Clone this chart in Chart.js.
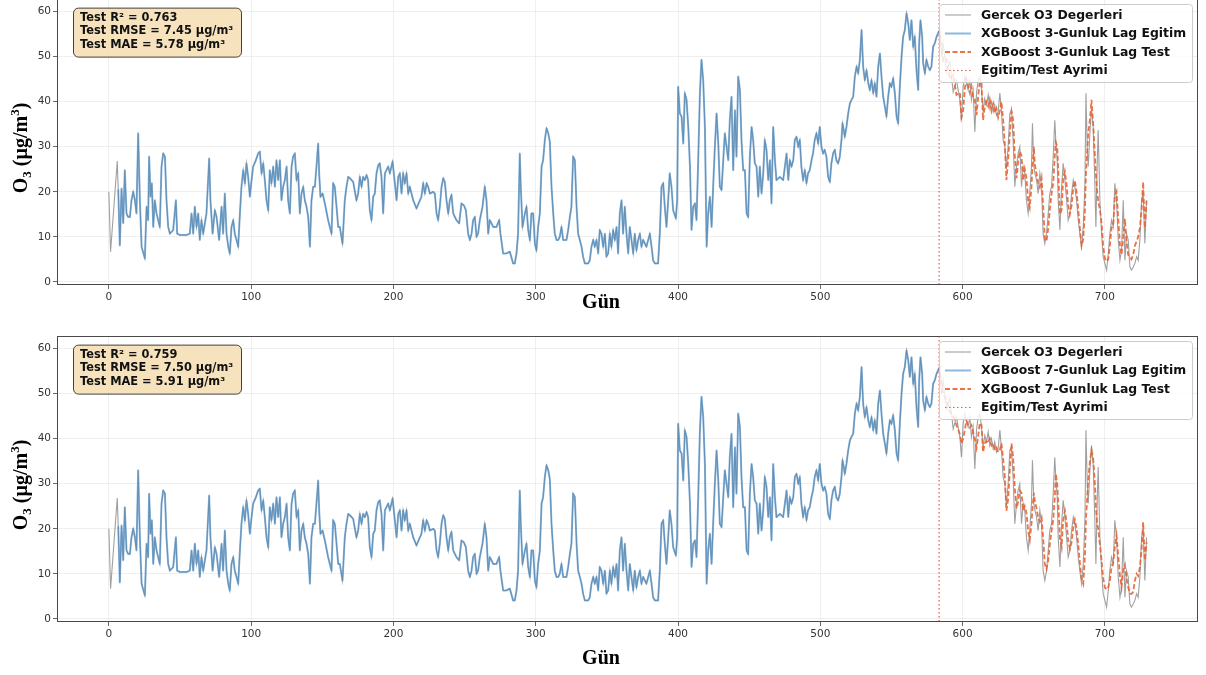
<!DOCTYPE html>
<html><head><meta charset="utf-8">
<script src="https://cdn.jsdelivr.net/npm/chart.js@4.4.0/dist/chart.umd.min.js"></script>
<style>
html,body{margin:0;padding:0;background:#fff;width:1206px;height:675px;overflow:hidden;position:relative}
canvas{position:absolute;left:0}
#c1{top:-5px}
#c2{top:330px}
</style></head><body>
<canvas id="c1" width="1206" height="325"></canvas>
<canvas id="c2" width="1206" height="345"></canvas>
<script>
// ---------- DATA ----------
const xTicks = [0, 100, 200, 300, 400, 500, 600, 700];
const yTicks = [0, 10, 20, 30, 40, 50, 60];
const splitDay = 583.5;
const xLabel = 'Gün';

// actual values at the very start (before the lagged model has output)
const startDays = [0, 1.2, 5.9];
const startO3 = [20.0, 6.7, 26.8];

// training period (actual and training prediction overlap)
const trainDays = [6.6,7.7,8.9,10.1,11.2,12.4,13.6,14.8,15.9,17.1,18.3,19.4,20.6,21.8,23.0,25.3,26.5,27.6,28.3,29.3,30.2,31.2,32.3,33.5,35.8,37.0,38.2,39.4,40.5,41.7,42.9,45.2,47.1,48.0,49.9,54.6,56.9,58.1,59.3,60.4,61.6,62.8,63.9,65.1,66.3,68.6,70.5,71.4,72.9,74.5,75.7,77.5,79.2,80.3,81.5,82.7,83.9,85.0,86.2,87.4,88.5,89.7,90.9,92.1,93.2,94.4,95.6,96.7,97.9,99.1,100.3,101.4,103.3,104.9,106.1,107.3,108.5,109.6,110.8,112.0,113.1,114.3,115.5,116.7,117.8,119.0,120.2,121.3,122.5,123.7,124.9,126.0,127.2,128.4,129.5,130.7,131.9,133.1,134.2,135.4,136.6,137.7,138.9,140.1,141.3,142.4,143.6,144.8,145.9,147.1,
147.8,148.7,150.2,151.8,154.1,156.5,157.6,158.8,160.0,161.2,162.3,164.2,165.8,167.0,168.2,169.4,171.7,174.0,175.2,176.4,177.6,178.7,179.9,181.1,182.2,183.4,184.6,185.8,186.9,188.1,189.3,190.4,191.6,192.8,194.0,195.1,196.3,197.5,199.4,201.0,202.2,203.4,204.5,205.7,206.8,208.0,209.2,210.4,211.5,213.9,216.2,218.6,219.7,220.9,222.1,223.3,224.4,225.6,227.9,229.1,230.3,231.4,232.6,233.8,235.0,236.1,237.3,238.5,239.6,240.8,242.0,243.2,244.3,246.2,247.8,249.5,250.9,252.5,253.7,254.9,256.0,257.2,258.4,259.5,260.7,262.6,264.2,265.4,266.6,267.7,268.9,270.1,272.4,274.3,275.2,277.1,279.4,281.8,284.1,285.3,286.5,287.6,288.8,289.5,290.7,292.4,293.5,294.7,295.9,297.0,298.2,299.4,300.5,301.7,302.9,304.1,305.2,306.4,307.6,308.8,309.9,311.1,312.3,313.4,314.6,315.8,
316.9,318.1,319.3,321.6,322.8,324.0,325.1,326.3,327.5,328.7,329.8,331.0,332.2,333.3,334.5,336.9,338.0,339.2,340.4,341.5,342.7,343.9,345.0,346.2,347.4,348.6,349.7,350.9,352.1,353.2,354.4,355.6,356.8,357.9,359.1,360.3,361.4,362.6,363.8,365.0,366.1,367.3,368.5,369.6,370.8,372.0,373.2,374.3,375.5,377.8,380.2,381.4,382.5,383.7,386.0,387.2,388.4,389.6,390.7,391.9,393.1,394.2,395.4,396.6,398.5,399.4,400.1,401.3,402.5,403.7,404.8,406.0,407.2,408.4,409.5,410.7,411.9,413.0,414.2,415.4,416.5,417.7,418.9,420.1,421.2,422.4,423.6,424.7,425.9,427.1,428.3,429.4,430.6,431.8,432.9,434.1,435.3,436.4,437.6,438.8,440.0,441.1,442.3,443.5,444.6,445.8,447.0,448.2,449.3,450.5,451.7,452.8,454.0,455.2,456.4,457.5,458.7,459.9,461.0,462.2,463.4,464.6,465.7,466.9,468.1,469.2,471.6,473.9,476.3,477.5,478.6,479.8,481.0,482.1,483.3,484.5,
485.6,486.7,487.9,489.1,490.3,491.4,492.6,493.8,494.9,496.1,497.3,498.5,499.6,500.8,502.0,503.1,504.3,505.5,506.7,507.8,509.0,510.2,511.3,512.5,513.7,514.9,515.6,516.5,517.2,518.4,519.6,520.8,521.9,523.1,524.3,525.5,526.6,527.8,529.0,530.1,531.3,532.5,533.7,534.8,536.0,537.2,538.3,539.5,540.7,541.9,543.0,544.2,545.4,546.5,547.7,548.9,550.0,551.2,552.4,553.6,554.7,555.9,557.1,558.2,559.4,560.6,561.8,562.9,564.1,565.3,566.4,567.6,568.8,569.5,570.4,571.6,572.3,573.5,574.6,575.8,577.0,578.1,579.3,580.5,581.7,582.8,584.0];
const trainO3 = [20.4,8.1,20.7,13.0,24.8,15.2,14.4,14.4,18.1,20.0,18.1,15.2,33.0,18.1,7.8,5.2,16.7,13.7,27.8,18.9,21.9,12.2,18.1,15.2,12.2,25.6,28.5,27.8,18.1,12.2,10.7,11.5,18.1,10.7,10.4,10.4,10.7,15.2,10.7,16.7,12.2,15.2,9.3,13.7,10.7,15.2,27.4,18.1,10.7,15.9,14.4,9.3,16.7,10.7,19.6,10.7,7.8,6.3,12.2,13.7,10.7,9.3,7.8,15.2,21.1,24.8,21.9,26.3,23.3,18.9,22.6,25.6,27.0,28.5,28.9,24.1,26.3,22.6,18.1,15.9,24.8,21.9,25.6,21.1,27.0,22.6,27.0,18.1,21.1,22.6,25.6,18.1,15.2,25.6,27.8,28.5,22.6,24.1,15.2,19.6,21.1,18.1,16.7,14.4,7.8,18.1,21.1,21.1,25.6,30.7,
24.1,18.9,19.6,17.4,13.7,10.7,21.9,21.1,16.7,12.2,12.2,8.5,18.1,21.1,23.3,23.0,22.2,18.1,19.6,23.3,21.1,23.3,22.6,23.7,22.6,15.9,13.7,18.9,19.6,24.1,25.9,26.3,23.3,15.2,24.1,24.8,25.6,24.1,26.7,21.9,18.1,23.3,24.1,19.6,24.1,21.9,24.1,19.6,21.1,18.1,16.3,18.1,18.9,21.9,19.6,21.9,21.1,19.6,20.0,19.6,15.2,13.7,16.7,21.1,23.0,22.2,18.1,15.2,18.1,19.3,15.2,14.4,13.7,13.0,17.4,17.0,15.9,10.7,9.3,10.7,13.7,14.4,10.0,10.7,13.7,16.7,21.1,18.1,10.7,13.7,13.0,12.2,12.2,13.7,10.7,6.3,6.3,6.7,4.1,4.1,6.3,10.7,28.5,21.1,12.2,15.2,16.7,11.5,9.3,15.2,15.2,8.5,7.0,12.2,15.2,25.6,27.0,31.5,34.1,33.0,31.1,21.1,15.2,10.7,9.3,9.3,
10.0,12.2,9.3,9.3,11.5,14.4,16.7,27.8,27.0,16.7,10.7,9.3,7.8,5.6,4.1,4.1,4.8,7.8,9.3,7.8,9.3,6.3,11.5,10.7,7.8,10.7,5.6,6.3,10.7,7.8,11.5,9.3,12.2,6.3,15.2,18.1,10.7,16.7,10.7,6.3,12.2,9.3,6.3,10.7,7.0,9.3,10.7,7.8,9.3,7.8,10.7,7.8,4.8,4.1,4.1,10.7,21.1,21.9,16.7,12.2,18.1,24.1,21.1,15.9,14.1,18.1,43.3,37.4,36.7,30.7,41.9,40.4,34.4,25.6,11.5,16.7,17.4,13.7,27.0,41.9,49.3,44.8,34.4,7.8,15.2,18.9,12.2,21.1,30.0,37.4,30.7,21.1,20.4,27.0,33.0,30.0,27.0,35.9,41.1,24.8,38.1,27.8,45.6,42.6,31.5,24.8,24.8,15.2,14.4,27.8,34.4,31.5,26.3,25.6,18.9,25.6,19.6,24.1,31.5,29.3,22.6,27.0,17.4,34.4,27.0,22.6,23.3,22.6,28.5,22.6,27.0,25.6,27.0,31.5,32.2,30.0,
31.5,25.6,22.6,24.8,21.9,24.1,24.8,27.0,28.5,31.5,33.0,30.7,34.4,30.0,28.5,29.3,27.8,23.3,22.2,26.3,28.5,29.3,27.0,26.3,27.8,31.5,35.2,33.7,32.2,34.4,37.4,39.6,40.4,41.1,45.6,47.8,46.3,49.3,55.9,47.8,44.8,47.0,44.1,42.6,44.8,41.9,44.1,41.1,47.8,50.7,45.6,41.1,38.9,36.7,41.1,44.1,43.3,45.2,41.9,36.7,35.2,43.3,50.0,54.4,55.9,59.6,57.4,53.7,58.1,52.2,54.4,47.0,42.6,53.0,58.1,54.4,48.5,46.3,49.3,47.8,47.0,47.8,52.2,53.0,54.4,55.2,55.9];

// test period
const testDays = [584.0,585.2,586.3,588.7,591.0,593.4,595.7,598.1,599.2,600.4,601.6,602.7,603.9,605.1,606.2,607.4,608.6,609.8,610.9,612.1,613.3,614.4,615.6,616.8,618.0,619.1,620.3,621.5,622.6,623.8,625.0,626.2,627.3,628.5,629.7,630.8,632.0,633.2,634.4,635.5,636.7,637.9,639.0,640.2,641.4,642.6,643.7,644.9,646.1,647.2,648.4,649.1,650.1,650.8,652.0,653.1,654.3,655.5,656.6,657.8,659.0,660.2,661.3,662.5,663.7,664.8,665.5,666.5,667.2,668.4,669.6,670.7,671.9,673.1,674.2,675.4,676.6,677.8,678.9,680.1,681.3,682.4,683.6,684.8,686.0,686.7,687.6,688.3,689.5,690.6,691.8,693.0,693.7,694.6,695.3,696.5,697.7,698.8,700.0,701.2,702.4,703.5,704.7,705.9,707.0,708.2,709.4,710.6,711.7,712.9,714.1,715.2,716.4,717.6,718.7,719.9,721.1,722.3,723.4,724.6,725.8,726.9,728.1,729.3];
const testActual = [55.9,50.0,53.0,46.5,49.0,42.2,44.8,40.4,35.9,43.3,45.6,44.1,42.6,44.8,40.4,42.6,33.3,41.9,44.8,45.6,42.6,38.0,40.7,39.3,41.5,38.5,40.0,37.8,39.3,37.0,37.8,41.9,37.8,31.5,30.0,25.0,30.0,37.4,38.1,31.5,21.1,25.6,28.5,30.0,21.1,25.6,24.1,18.1,15.2,19.6,25.6,35.2,25.6,24.1,22.6,19.6,24.1,21.1,10.7,8.5,10.7,15.2,19.6,21.1,27.8,35.9,31.5,27.0,18.1,11.5,21.1,26.3,22.6,18.1,13.7,15.2,19.6,22.6,21.1,18.1,13.7,10.7,7.8,12.2,21.9,41.9,30.0,25.6,33.0,38.5,34.4,21.1,12.2,26.3,33.7,18.1,10.7,5.6,4.1,2.6,6.3,10.7,13.7,12.2,21.9,18.1,9.3,4.8,7.0,18.1,4.8,10.7,9.3,3.3,2.6,3.3,4.1,5.6,4.8,9.3,18.1,20.0,8.5,18.1];
const testPred3 = [55.0,52.0,49.0,49.5,45.0,46.0,41.5,42.0,36.5,38.0,43.0,45.0,43.5,42.0,43.5,41.0,40.5,37.0,41.0,44.5,44.0,35.9,39.0,40.0,39.0,40.5,38.0,39.5,37.5,38.5,36.5,38.0,40.0,36.0,30.5,22.6,27.0,33.0,37.8,36.0,28.0,23.0,26.5,29.0,28.0,22.5,25.0,23.0,18.0,16.5,21.0,25.5,30.0,26.0,24.0,22.0,21.0,23.0,17.0,9.5,9.0,12.0,16.0,19.5,22.0,28.0,31.0,30.0,25.0,15.0,16.0,23.0,24.5,21.5,17.0,15.0,17.0,21.0,22.5,20.0,16.0,12.0,8.0,9.5,16.0,24.0,29.0,33.0,36.0,40.4,35.0,28.0,24.0,20.0,18.0,16.0,13.0,8.0,5.2,4.5,5.0,8.0,12.0,12.5,19.0,20.0,14.0,8.0,6.0,10.0,14.0,9.0,6.0,5.5,5.0,6.0,8.0,9.0,10.0,12.0,16.0,22.2,12.0,18.0];
const testPred7 = [54.5,52.0,50.0,48.5,46.0,45.0,43.0,41.0,38.9,40.0,42.0,44.0,43.0,42.5,43.0,41.5,40.0,38.0,40.5,43.5,43.0,37.0,39.0,39.5,39.0,40.0,38.5,39.0,37.5,38.0,37.0,37.5,39.0,35.5,31.5,24.0,26.5,33.0,38.9,36.0,29.0,24.5,26.0,28.5,28.0,24.0,25.0,23.5,19.5,17.5,21.0,24.5,28.0,26.0,24.5,22.5,21.5,22.5,18.0,12.2,11.0,13.0,16.5,19.5,22.0,27.0,32.2,30.0,26.0,18.0,16.0,22.0,24.0,21.5,17.5,15.5,17.0,20.5,22.0,20.0,16.5,12.5,9.0,7.8,14.0,22.0,27.0,31.0,35.0,37.4,35.5,30.0,25.0,21.0,20.0,16.5,13.0,9.0,7.0,6.5,7.0,8.5,11.5,12.5,16.0,18.5,14.0,9.5,7.0,11.0,12.0,9.0,7.0,5.6,5.5,6.0,8.5,10.0,9.5,11.5,15.5,21.5,13.0,17.0];

const statsTop = ['Test R² = 0.763', 'Test RMSE = 7.45 µg/m³', 'Test MAE = 5.78 µg/m³'];
const statsBottom = ['Test R² = 0.759', 'Test RMSE = 7.50 µg/m³', 'Test MAE = 5.91 µg/m³'];
const legendTop = ['Gercek O3 Degerleri', 'XGBoost 3-Gunluk Lag Egitim', 'XGBoost 3-Gunluk Lag Test', 'Egitim/Test Ayrimi'];
const legendBottom = ['Gercek O3 Degerleri', 'XGBoost 7-Gunluk Lag Egitim', 'XGBoost 7-Gunluk Lag Test', 'Egitim/Test Ayrimi'];

// ---------- BUILD ----------
const pts = (xs, ys) => xs.map((d, i) => ({x: d, y: ys[i]}));
const actualPts = pts(startDays.concat(trainDays, testDays.slice(1)), startO3.concat(trainO3, testActual.slice(1)));
const trainPts = pts(trainDays, trainO3);

const COL_ACT = 'rgba(120,120,120,0.7)';
const COL_TRAIN = 'rgba(60,135,200,0.58)';
const COL_TEST = 'rgba(232,100,52,0.9)';
const COL_SPLIT = 'rgba(225,60,40,0.85)';

function rrect(ctx, x, y, w, h, r) {
  ctx.beginPath();
  ctx.moveTo(x + r, y);
  ctx.lineTo(x + w - r, y); ctx.arcTo(x + w, y, x + w, y + r, r);
  ctx.lineTo(x + w, y + h - r); ctx.arcTo(x + w, y + h, x + w - r, y + h, r);
  ctx.lineTo(x + r, y + h); ctx.arcTo(x, y + h, x, y + h - r, r);
  ctx.lineTo(x, y + r); ctx.arcTo(x, y, x + r, y, r);
  ctx.closePath();
}

const decor = {
  id: 'decor',
  afterDatasetsDraw(chart, args, o) {
    const {ctx, chartArea: a, scales: {x}} = chart;
    const sx = x.getPixelForValue(splitDay);
    ctx.save();
    ctx.strokeStyle = COL_SPLIT; ctx.lineWidth = 1.2; ctx.setLineDash([1.5, 2.5]);
    ctx.beginPath(); ctx.moveTo(sx, a.top); ctx.lineTo(sx, a.bottom); ctx.stroke();
    ctx.setLineDash([]);
    ctx.strokeStyle = '#4a4a4a'; ctx.lineWidth = 1;
    ctx.strokeRect(Math.round(a.left) + 0.5, Math.round(a.top) + 0.5, Math.round(a.right - a.left) - 1, Math.round(a.bottom - a.top) - 1);
    ctx.restore();
  },
  afterDraw(chart, args, o) {
    const {ctx, chartArea: a, scales: {y}} = chart;
    const off = o.pageTop;
    ctx.save();
    // stats box
    const y60 = y.getPixelForValue(60);
    const bx = a.left + 16, by = y60 - 4, bw = 168, bh = 49;
    rrect(ctx, bx + 0.5, by + 0.5, bw, bh, 5);
    ctx.fillStyle = 'rgba(245,222,179,0.85)'; ctx.fill();
    ctx.strokeStyle = 'rgba(50,45,40,0.9)'; ctx.lineWidth = 1; ctx.stroke();
    ctx.fillStyle = '#111'; ctx.font = 'bold 11.4px "DejaVu Sans"'; ctx.textBaseline = 'middle'; ctx.textAlign = 'left';
    o.stats.forEach((t, i) => ctx.fillText(t, bx + 7, y60 + 6.5 + i * 13.3));
    // legend
    const lw = 253, lh = 78, lx = a.right - 6 - lw, ly = a.top + 5;
    rrect(ctx, lx + 0.5, ly + 0.5, lw, lh, 3);
    ctx.fillStyle = 'rgba(255,255,255,0.8)'; ctx.fill();
    ctx.strokeStyle = '#cccccc'; ctx.stroke();
    const ds = chart.data.datasets;
    const styles = [
      {c: ds[0].borderColor, w: ds[0].borderWidth, d: []},
      {c: ds[1].borderColor, w: ds[1].borderWidth, d: []},
      {c: ds[2].borderColor, w: ds[2].borderWidth, d: ds[2].borderDash},
      {c: COL_SPLIT, w: 1.2, d: [1.5, 2.5]}
    ];
    o.legend.forEach((t, i) => {
      const ry = ly + 11 + i * 18.5;
      ctx.strokeStyle = styles[i].c; ctx.lineWidth = styles[i].w; ctx.setLineDash(styles[i].d);
      ctx.beginPath(); ctx.moveTo(lx + 6, ry); ctx.lineTo(lx + 32, ry); ctx.stroke();
      ctx.setLineDash([]);
      ctx.fillStyle = '#111'; ctx.font = 'bold 12.4px "DejaVu Sans"';
      ctx.fillText(t, lx + 42, ry + 0.5);
    });
    // x axis title
    ctx.fillStyle = '#000'; ctx.textAlign = 'center'; ctx.textBaseline = 'middle';
    ctx.font = 'bold 20px "Liberation Serif"';
    ctx.fillText(xLabel, 601, o.xTitleY - off);
    // y axis title with sub/superscript
    const big = 'bold 20px "Liberation Serif"', small = 'bold 13px "Liberation Serif"';
    const segs = [['O', big, 0], ['3', small, 4], [' (µg/m', big, 0], ['3', small, -8], [')', big, 0]];
    let total = 0;
    segs.forEach(s => { ctx.font = s[1]; s.push(ctx.measureText(s[0]).width); total += s[3]; });
    ctx.translate(20, o.yTitleY - off);
    ctx.rotate(-Math.PI / 2);
    ctx.textAlign = 'left'; ctx.textBaseline = 'alphabetic';
    let cx = -total / 2;
    segs.forEach(s => { ctx.font = s[1]; ctx.fillText(s[0], cx, 7 + s[2]); cx += s[3]; });
    ctx.restore();
  }
};

function makeChart(id, testPred, padTop, xAxisH, pageTop, stats, legend, xTitleY, yTitleY) {
  return new Chart(document.getElementById(id), {
    type: 'line',
    data: {datasets: [
      {label: legend[0], data: actualPts, borderColor: COL_ACT, borderWidth: 1.1, pointRadius: 0, tension: 0, order: 3},
      {label: legend[1], data: trainPts, borderColor: COL_TRAIN, borderWidth: 2, pointRadius: 0, tension: 0, order: 2, borderJoinStyle: 'round', borderCapStyle: 'round'},
      {label: legend[2], data: pts(testDays, testPred), borderColor: COL_TEST, borderWidth: 1.8, borderDash: [5, 2.5], pointRadius: 0, tension: 0, order: 1}
    ]},
    options: {
      responsive: false, animation: false, devicePixelRatio: 1,
      layout: {padding: {top: padTop, right: 8, left: 0, bottom: 0}},
      plugins: {legend: {display: false}, tooltip: {enabled: false},
        decor: {pageTop, stats, legend, xTitleY, yTitleY}},
      scales: {
        x: {type: 'linear', min: -36.45, max: 765.45,
          afterBuildTicks: s => { s.ticks = xTicks.map(v => ({value: v})); },
          afterFit: s => { s.height = xAxisH; s.paddingLeft = 0; s.paddingRight = 0; },
          grid: {color: '#ebebeb', lineWidth: 0.8, tickLength: 4, tickColor: '#444', drawTicks: true},
          border: {display: false},
          ticks: {font: {family: 'DejaVu Sans', size: 10.5}, color: '#333', padding: 2, maxRotation: 0, autoSkip: false}},
        y: {type: 'linear', min: -0.7, max: 62.8,
          afterBuildTicks: s => { s.ticks = yTicks.map(v => ({value: v})); },
          afterFit: s => { s.width = 57; s.paddingTop = 0; s.paddingBottom = 0; },
          grid: {color: '#ebebeb', lineWidth: 0.8, tickLength: 4, tickColor: '#444', drawTicks: true},
          border: {display: false},
          ticks: {font: {family: 'DejaVu Sans', size: 10.5}, color: '#333', padding: 2, autoSkip: false}}
      }
    },
    plugins: [decor]
  });
}

makeChart('c1', testPred3, 4, 35, -5, statsTop, legendTop, 303, 148);
makeChart('c2', testPred7, 6, 53, 330, statsBottom, legendBottom, 659, 485);
</script></body></html>
